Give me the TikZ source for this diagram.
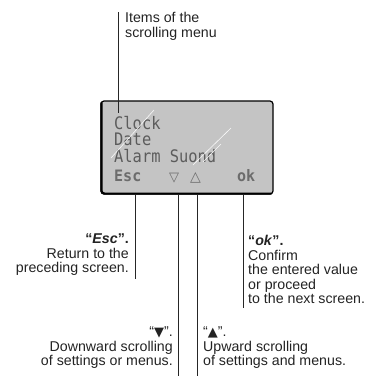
\documentclass[tikz,border=0pt]{standalone}
\usepackage{fontspec}
\usepackage{graphicx}
\setmainfont{Liberation Sans}
\newfontfamily\lcdfont{DejaVu Sans Mono}
\newfontfamily\symfont{DejaVu Sans}
\definecolor{lcdbg}{RGB}{196,196,196}
\definecolor{lcdink}{RGB}{92,92,92}
\definecolor{lcdsoft}{RGB}{108,108,108}
\definecolor{ink}{RGB}{35,35,35}
\begin{document}
\begin{tikzpicture}[x=1pt,y=-1pt,
  lbl/.style={inner sep=0pt, text=ink, font=\fontsize{14.2}{14.6}\selectfont},
  lead/.style={line width=0.8pt, draw=black!85},
  lcdtxt/.style={inner sep=0pt, anchor=base west, text=lcdink, font=\lcdfont\fontsize{15.4}{17}\selectfont},
  lcdkey/.style={lcdtxt, text=lcdsoft, font=\lcdfont\bfseries\fontsize{15}{17}\selectfont},
  glare/.style={draw=white, line width=0.6pt, opacity=0.9},
  lcdbox/.style={draw=black, fill=lcdbg, line width=1.2pt, rounded corners=3pt,
    minimum width=172pt, minimum height=93pt, inner sep=0pt}]
\useasboundingbox (0,0) rectangle (369,376);
% LCD panel
\node[lcdbox] (lcd) at (187,147.5) {};
\draw[line width=2.2pt, rounded corners=3pt] (lcd.north west) ++(1,2) |- ([xshift=-2pt,yshift=1pt]lcd.south east);
% LCD text
\node[lcdtxt] (clock) at (114,129) {\scalebox{1}[1.12]{Clock}};
\node[lcdtxt] (date) at (114,145.5) {\scalebox{1}[1.12]{Date}};
\node[lcdtxt] (alarm) at (114,162) {\scalebox{1}[1.12]{Alarm Suond}};
\node[lcdkey] (lesc) at (114,181) {\scalebox{1}[1.05]{Esc}};
\node[lcdkey, font=\symfont\fontsize{13}{14}\selectfont] (ldown) at (169,181) {▽};
\node[lcdkey, font=\symfont\fontsize{14}{14}\selectfont] (lup) at (190,181) {△};
\node[lcdkey] (lok) at (237,181) {\scalebox{1}[1.05]{ok}};
% glare
\coordinate (g1a) at (154,110); \coordinate (g1b) at (111,158);
\coordinate (g2a) at (231,128); \coordinate (g2b) at (193,165);
\coordinate (g3a) at (221,144); \coordinate (g3b) at (203,162);
\draw[glare] (g1a) -- (g1b);
\draw[glare] (g2a) -- (g2b);
\draw[glare] (g3a) -- (g3b);
% labels
\node[lbl, anchor=north west, align=left] (items) at (125,12.5) {Items of the\\scrolling menu};
\node[lbl, anchor=north east, align=right] (esc) at (129,233.5) {\textbf{“\textit{Esc}”.}\\Return to the\\preceding screen.};
\node[lbl, anchor=north west, align=left] (ok) at (248,235) {\textbf{“\textit{ok}”.}\\Confirm\\the entered value\\or proceed\\to the next screen.};
\node[lbl, anchor=north east, align=right] (down) at (173,326.5) {“{\symfont\fontsize{13}{14}\selectfont▼}”.\\Downward scrolling\\of settings or menus.};
\node[lbl, anchor=north west, align=left] (up) at (203,326.5) {“{\symfont\fontsize{13}{14}\selectfont▲}”.\\Upward scrolling\\of settings and menus.};
% leader lines
\coordinate (itemsTop) at (118,12); \coordinate (itemsBot) at (118,113);
\coordinate (escA) at (135,195); \coordinate (escB) at (135,279);
\coordinate (downA) at (178,195); \coordinate (downB) at (178,376);
\coordinate (upA) at (197.5,195); \coordinate (upB) at (197.5,376);
\coordinate (okA) at (243,195); \coordinate (okB) at (243,308);
\draw[lead] (itemsTop) -- (itemsBot);
\draw[lead] (escA) -- (escB);
\draw[lead] (downA) -- (downB);
\draw[lead] (upA) -- (upB);
\draw[lead] (okA) -- (okB);
\end{tikzpicture}
\end{document}
